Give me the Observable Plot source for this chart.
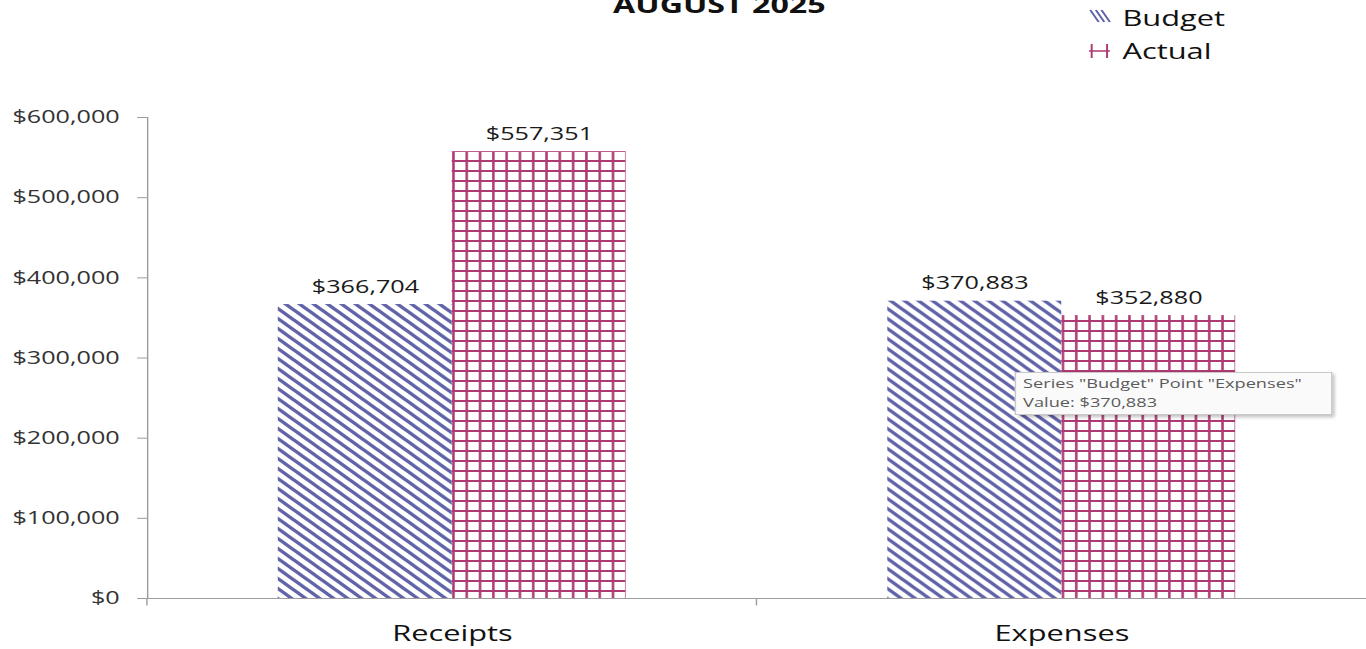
<!DOCTYPE html>
<html>
<head>
<meta charset="utf-8">
<script src="https://cdn.jsdelivr.net/npm/d3@7"></script>
<script src="https://cdn.jsdelivr.net/npm/@observablehq/plot@0.6"></script>
<style>
  html, body { margin: 0; padding: 0; background: #fff; overflow: hidden; }
  #wrap { position: absolute; left: 0; top: 0; width: 976px; height: 649px;
          transform: scaleX(1.39959); transform-origin: 0 0; font-family: "Open Sans", sans-serif; }
  #title { position: absolute; left: 314px; width: 400px; top: -7px; text-align: center;
           font-size: 23px; line-height: 23px; font-weight: bold; color: #111; }
  .leg { position: absolute; left: 778px; font-size: 22px; line-height: 22px; color: #111; white-space: nowrap; }
  .leg svg { position: absolute; left: 0; }
  .leg span { position: absolute; left: 24px; top: 0; }
  #tip { position: absolute; left: 725px; top: 372px; width: 220px; height: 40px; padding: 1px 0 0 5px;
         background: #fafafa; border: 1px solid #c9c9c9; box-shadow: 2px 2px 3px rgba(0,0,0,0.28);
         font-size: 13px; line-height: 19px; color: #5a5a5a; white-space: nowrap; }
</style>
</head>
<body>
<svg width="0" height="0" style="position:absolute">
  <defs>
    <pattern id="pat-budget" patternUnits="userSpaceOnUse" width="10" height="10">
      <path d="M-10,-10 L20,20 M0,-10 L30,20 M-20,-10 L10,20" stroke="#6163a8" stroke-width="3"/>
    </pattern>
    <pattern id="pat-actual" patternUnits="userSpaceOnUse" width="9.5" height="10">
      <path d="M1,0 L1,10 M0,1 L9.5,1" stroke="#ad3a72" stroke-width="1.8"/>
    </pattern>
  </defs>
</svg>
<div id="wrap">
  <div id="title">AUGUST 2025</div>
  <div class="leg" style="top:6px">
    <svg width="16" height="16" style="top:3px"><path d="M1,1 L7,13 M5,1 L11,13 M9,1 L15,13" stroke="#6163a8" stroke-width="1.6" fill="none"/></svg>
    <span>Budget</span>
  </div>
  <div class="leg" style="top:39px">
    <svg width="16" height="16" style="top:4px"><path d="M2,1 L2,15 M13,1 L13,15 M0,8 L15,8" stroke="#ad3a72" stroke-width="1.4" fill="none"/></svg>
    <span>Actual</span>
  </div>
  <div id="chart"></div>
  <div id="tip">Series "Budget" Point "Expenses"<br>Value: $370,883</div>
</div>
<script>
const categories = ["Receipts", "Expenses"];
const series = ["Budget", "Actual"];
const budget = [366704, 370883];
const actual = [557351, 352880];
const yTicks = [0, 100000, 200000, 300000, 400000, 500000, 600000];

const rows = [];
categories.forEach((c, i) => {
  rows.push({category: c, series: "Budget", value: budget[i]});
  rows.push({category: c, series: "Actual", value: actual[i]});
});
const fmt = d3.format("$,");
const axisGray = "#9c9c9c";

const chart = Plot.plot({
  width: 976,
  height: 649,
  marginLeft: 105,
  marginRight: 0,
  marginTop: 117,
  marginBottom: 51,
  style: {fontFamily: "Open Sans, sans-serif", fontSize: "18px", color: "#333", background: "transparent"},
  fx: {domain: categories, padding: 0, round: false, label: null},
  x: {domain: series, paddingInner: 0, paddingOuter: 0.752, round: false, axis: null},
  y: {domain: [0, 600000], label: null},
  color: {domain: series, range: ["url(#pat-budget)", "url(#pat-actual)"]},
  marks: [
    Plot.barY(rows, {fx: "category", x: "series", y: "value", fill: "series"}),
    Plot.frame({anchor: "left", stroke: axisGray, facetAnchor: "left"}),
    Plot.ruleY([0], {
      stroke: axisGray,
      render(index, scales, values, dimensions, context, next) {
        const g = next(index, scales, values, dimensions, context);
        const line = g.querySelector("line");
        if (line) {
          const x = line.getAttribute("x1");
          const y = +line.getAttribute("y1");
          const t = document.createElementNS("http://www.w3.org/2000/svg", "line");
          t.setAttribute("x1", x); t.setAttribute("x2", x);
          t.setAttribute("y1", y); t.setAttribute("y2", y + 7);
          t.setAttribute("stroke", axisGray);
          g.appendChild(t);
        }
        return g;
      }
    }),
    Plot.text(rows, {fx: "category", x: "series", y: "value", text: d => fmt(d.value),
      lineAnchor: "bottom", dy: -12, fontSize: 18, fill: "#1a1a1a"}),
    Plot.axisY({ticks: yTicks, tickFormat: fmt, tickSize: 7, tickPadding: 13, stroke: axisGray,
      fill: "#333", fontSize: 18, label: null}),
    Plot.axisFx({anchor: "bottom", tickSize: 0, tickPadding: 27, fontSize: 22, fill: "#111", label: null})
  ]
});
document.getElementById("chart").appendChild(chart);
</script>
</body>
</html>
